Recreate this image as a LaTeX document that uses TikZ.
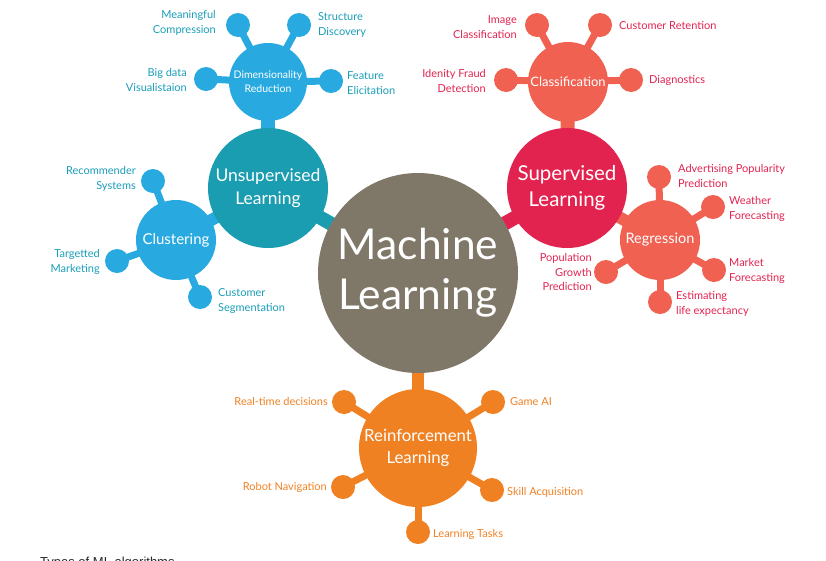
\documentclass[tikz,border=0pt]{standalone}
\usepackage{fontspec}
\setmainfont{Lato}
\newfontfamily\capfont{Liberation Sans}
\usetikzlibrary{backgrounds}
\definecolor{mlgray}{HTML}{7F7869}
\definecolor{unsupteal}{HTML}{1A9DB0}
\definecolor{dimblue}{HTML}{28AAE1}
\definecolor{lblteal}{HTML}{1A9DB8}
\definecolor{supred}{HTML}{E2234F}
\definecolor{salmon}{HTML}{F06152}
\definecolor{rforange}{HTML}{F08123}
\begin{document}
\begin{tikzpicture}[x=1pt,y=-1pt,
  hub/.style={circle, inner sep=0pt, text=white, align=center},
  sat/.style={circle, inner sep=0pt, minimum size=24pt},
  lbl/.style={inner sep=0pt, font=\fontsize{11}{14.5}\selectfont},
  lw/.style={lbl, anchor=west, align=left},
  le/.style={lbl, anchor=east, align=right},
  thinstem/.style={line width=7pt},
  thickstem/.style={line width=14pt}]
\useasboundingbox (0,0) rectangle (826,560);
% hubs
\node[hub, fill=mlgray, minimum size=200pt, font=\fontsize{42.5}{50}\selectfont] (ml) at (418,273) {Machine\\Learning};
\node[hub, fill=unsupteal, minimum size=120pt, font=\fontsize{17.5}{23}\selectfont] (unsup) at (268,188) {Unsupervised\\Learning};
\node[hub, fill=dimblue, minimum size=78pt, font=\fontsize{10.5}{14}\selectfont] (dim) at (268,82) {Dimensionality\\Reduction};
\node[hub, fill=dimblue, minimum size=80pt, font=\fontsize{15}{17}\selectfont] (clu) at (176,240) {Clustering};
\node[hub, fill=supred, minimum size=120pt, font=\fontsize{20.5}{26}\selectfont] (sup) at (567,188) {Supervised\\Learning};
\node[hub, fill=salmon, minimum size=80pt, font=\fontsize{13}{16}\selectfont] (cla) at (568,82) {Classification};
\node[hub, fill=salmon, minimum size=80pt, font=\fontsize{14.5}{17}\selectfont] (reg) at (660,240) {Regression};
\node[hub, fill=rforange, minimum size=118pt, font=\fontsize{16.8}{22}\selectfont] (rl) at (418,448) {Reinforcement\\Learning};
% satellites: dimensionality reduction
\node[sat, fill=dimblue] (mc) at (238,25) {};
\node[sat, fill=dimblue] (sd) at (299,25) {};
\node[sat, fill=dimblue] (bd) at (206,79) {};
\node[sat, fill=dimblue] (fe) at (331,81) {};
% satellites: clustering
\node[sat, fill=dimblue] (rs) at (153,181) {};
\node[sat, fill=dimblue] (tm) at (117,261) {};
\node[sat, fill=dimblue] (cs) at (200,297) {};
% satellites: classification
\node[sat, fill=salmon] (ic) at (537,25) {};
\node[sat, fill=salmon] (cr) at (600,25) {};
\node[sat, fill=salmon] (fd) at (506,80) {};
\node[sat, fill=salmon] (dg) at (631,80) {};
% satellites: regression
\node[sat, fill=salmon] (ap) at (659,177) {};
\node[sat, fill=salmon] (wf) at (713,207) {};
\node[sat, fill=salmon] (mf) at (714,270) {};
\node[sat, fill=salmon] (le) at (660,302) {};
\node[sat, fill=salmon] (pg) at (606,272) {};
% satellites: reinforcement
\node[sat, fill=rforange] (rt) at (344,402) {};
\node[sat, fill=rforange] (ga) at (493,402) {};
\node[sat, fill=rforange] (rn) at (343,487) {};
\node[sat, fill=rforange] (sa) at (492,490) {};
\node[sat, fill=rforange] (lt) at (418,532) {};
% labels
\begin{scope}[text=lblteal]
\node[le] (mcl) at (216,23) {Meaningful\\Compression};
\node[lw] (sdl) at (318,25) {Structure\\Discovery};
\node[le] (bdl) at (187,80) {Big data\\Visualistaion};
\node[lw] (fel) at (347,83) {Feature\\Elicitation};
\node[le] (rsl) at (136,179) {Recommender\\Systems};
\node[le] (tml) at (100,262) {Targetted\\Marketing};
\node[lw] (csl) at (218,301) {Customer\\Segmentation};
\end{scope}
\begin{scope}[text=supred]
\node[le] (icl) at (517,27) {Image\\Classification};
\node[lw] (crl) at (619,26) {Customer Retention};
\node[le] (fdl) at (486,81) {Idenity Fraud\\Detection};
\node[lw] (dgl) at (649,80) {Diagnostics};
\node[lw] (apl) at (678,176) {Advertising Popularity\\Prediction};
\node[lw] (wfl) at (729,209) {Weather\\Forecasting};
\node[lw] (mfl) at (729,271) {Market\\Forecasting};
\node[lw] (lel) at (676,304) {Estimating\\life expectancy};
\node[le] (pgl) at (592,272) {Population\\Growth\\Prediction};
\end{scope}
\begin{scope}[text=rforange]
\node[le] (rtl) at (328,401) {Real-time decisions};
\node[lw] (gal) at (510,402) {Game AI};
\node[le] (rnl) at (327,487) {Robot Navigation};
\node[lw] (sal) at (507,492) {Skill Acquisition};
\node[lw] (ltl) at (433,534) {Learning Tasks};
\end{scope}
\node[anchor=base west, inner sep=0pt, text=black!85, font=\capfont\fontsize{13}{15}\selectfont] (cap) at (40,566) {Types of ML algorithms};
% connectors
\begin{scope}[on background layer]
\draw[thickstem, unsupteal] (unsup.center) -- (ml.center);
\draw[thickstem, supred] (sup.center) -- (ml.center);
\draw[line width=12pt, rforange] (rl.center) -- (ml.center);
\draw[thickstem, dimblue] (dim.center) -- (unsup.center);
\draw[line width=12pt, dimblue] (clu.center) -- (unsup.center);
\draw[thickstem, salmon] (cla.center) -- (sup.center);
\draw[line width=12pt, salmon] (reg.center) -- (sup.center);
\foreach \s in {mc,sd,bd,fe} \draw[thinstem, dimblue] (dim.center) -- (\s.center);
\foreach \s in {rs,tm,cs} \draw[thinstem, dimblue] (clu.center) -- (\s.center);
\foreach \s in {ic,cr,fd,dg} \draw[thinstem, salmon] (cla.center) -- (\s.center);
\foreach \s in {ap,wf,mf,le,pg} \draw[thinstem, salmon] (reg.center) -- (\s.center);
\foreach \s in {rt,ga,rn,sa,lt} \draw[thinstem, rforange] (rl.center) -- (\s.center);
\end{scope}
\end{tikzpicture}
\end{document}
